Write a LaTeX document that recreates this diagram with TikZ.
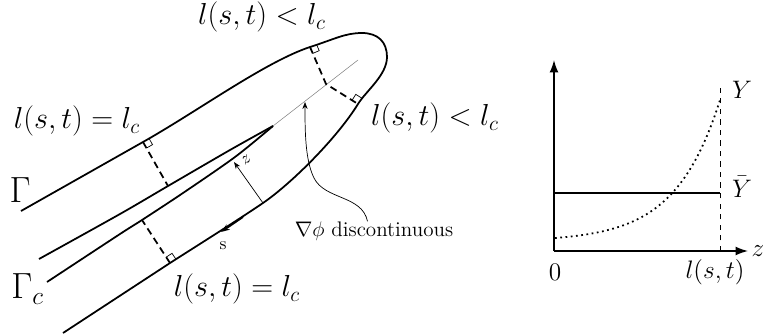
\documentclass[tikz,border=0pt]{standalone}
\usepackage{amsmath}
\usepackage{amssymb}
\usetikzlibrary{arrows.meta,calc}

\begin{document}
\begin{tikzpicture}[
  x=0.02cm, y=-0.02cm,
  >=Stealth,
  curve/.style={line width=1pt},
  cut/.style={line width=1pt, dash pattern=on 4pt off 2.5pt},
  rmark/.style={line width=0.4pt},
  lab/.style={inner sep=0pt, font=\LARGE},
  big/.style={inner sep=0pt, font=\huge},
  lbl/.style={inner sep=0pt, font=\large},
  axl/.style={inner sep=0pt, font=\Large},
  tag/.style={inner sep=0pt, font=\normalsize}
]
\def\rd{0.14cm}
% right-angle mark at #1, dashed line towards #2, turned by #3
\def\rtmark#1#2#3{%
  \path ($(#1)!\rd!(#2)$) coordinate (rp) ($(#1)!\rd!#3:(#2)$) coordinate (rq);
  \draw[rmark] (rp) -- ($(rp)+(rq)-(#1)$) -- (rq);}

\useasboundingbox (0,0) rectangle (763,335);

% feet of the cuts and meeting points
\coordinate (A1) at (143,142);
\coordinate (B1) at (168,186);
\coordinate (A2) at (170,263);
\coordinate (B2) at (142,220);
\coordinate (A3) at (310,47);
\coordinate (A4) at (358,104);
\coordinate (P) at (362,33);
\coordinate (R) at (387,57);
\coordinate (F) at (263,203);
\coordinate (M) at (326,84);
\coordinate (T) at (273,126);
\coordinate (E) at (358,60);

% outer boundary Gamma
\draw[curve] (21,211) -- (A1)
  .. controls (198,111) and (265,62) .. (A3)
  .. controls (335,39) and (345,33) .. (P)
  .. controls (378,33) and (387,42) .. (R)
  .. controls (387,75) and (366,91) .. (A4)
  .. controls (337,138) and (292,183) .. (F)
  .. controls (238,220) and (195,247) .. (A2)
  -- (63,333);

% crack Gamma_c
\draw[curve] plot[smooth, tension=0.5] coordinates {
  (39,259) (120,214) (B1) (230,150) (T)};
\draw[curve] plot[smooth, tension=0.5] coordinates {
  (T) (235,157) (183,193) (B2) (120,234) (47,282)};

% line where grad phi jumps
\draw[gray, line width=0.3pt] (T) -- (E);

% normals of length l_c
\draw[cut] (A1) -- (B1);
\draw[cut] (A2) -- (B2);
\draw[cut] (A3) -- (M) -- (A4);
\rtmark{A1}{B1}{90}
\rtmark{A2}{B2}{-90}
\rtmark{A3}{M}{90}
\rtmark{A4}{M}{-90}

% local coordinates
\coordinate (z1) at (234,162);
\draw[->, line width=0.4pt, >={Stealth[length=4pt,width=3pt]}] (F) -- (z1);
\node[tag, rotate=35] (zl) at (246,160) {$z$};
\coordinate (s0) at (243,217);
\coordinate (s1) at (221,232);
\draw[->, line width=1pt, >={Stealth[length=5pt,width=3.5pt]}] (s0) -- (s1);
\node[tag] (sl) at (223,246) {s};

% labels
\node[lab] (top) at (262,17) {$l(s,t)<l_c$};
\node[lab] (left) at (77,121) {$l(s,t)=l_c$};
\node[lab] (right) at (435,118) {$l(s,t)<l_c$};
\node[lab] (bot) at (237,289) {$l(s,t)=l_c$};
\node[big] (G) at (20,190) {$\Gamma$};
\node[big, anchor=west] (Gc) at (11,289) {$\Gamma_c$};
\node[lbl] (disc) at (374,231) {$\nabla\phi$ discontinuous};
\coordinate (ptr) at (305,102);
\draw[->, line width=0.4pt, >={Stealth[length=4pt,width=3pt]}]
  ([xshift=-0.13cm]disc.north) .. controls (362,195) and (325,200) .. (314,178)
  .. controls (305,160) and (305,130) .. (ptr);

% profile along z
\coordinate (O) at (554,251);
\coordinate (ytop) at (554,60);
\coordinate (xend) at (748,251);
\coordinate (L) at (720,251);
\draw[line width=0.8pt, -{Latex[length=7pt,width=5pt]}] (O) -- (ytop);
\draw[line width=0.8pt, -{Latex[length=7pt,width=5pt]}] (O) -- (xend);
\draw[line width=1.1pt] (554,193) -- (720,193);
\draw[dashed, line width=0.5pt] (L) -- (720,87);
\draw[dotted, line width=1pt] plot[domain=0:1, samples=60]
  ({555+165*\x}, {251-(13+138*(exp(3.7*\x)-1)/39.45)});
\node[axl] (Y) at (742,90) {$Y$};
\node[axl] (Yb) at (742,187) {$\bar{Y}$};
\node[axl] (zax) at (758,251) {$z$};
\node[axl] (zero) at (555,272) {$0$};
\node[axl] (lst) at (715,272) {$l(s,t)$};

\end{tikzpicture}
\end{document}
